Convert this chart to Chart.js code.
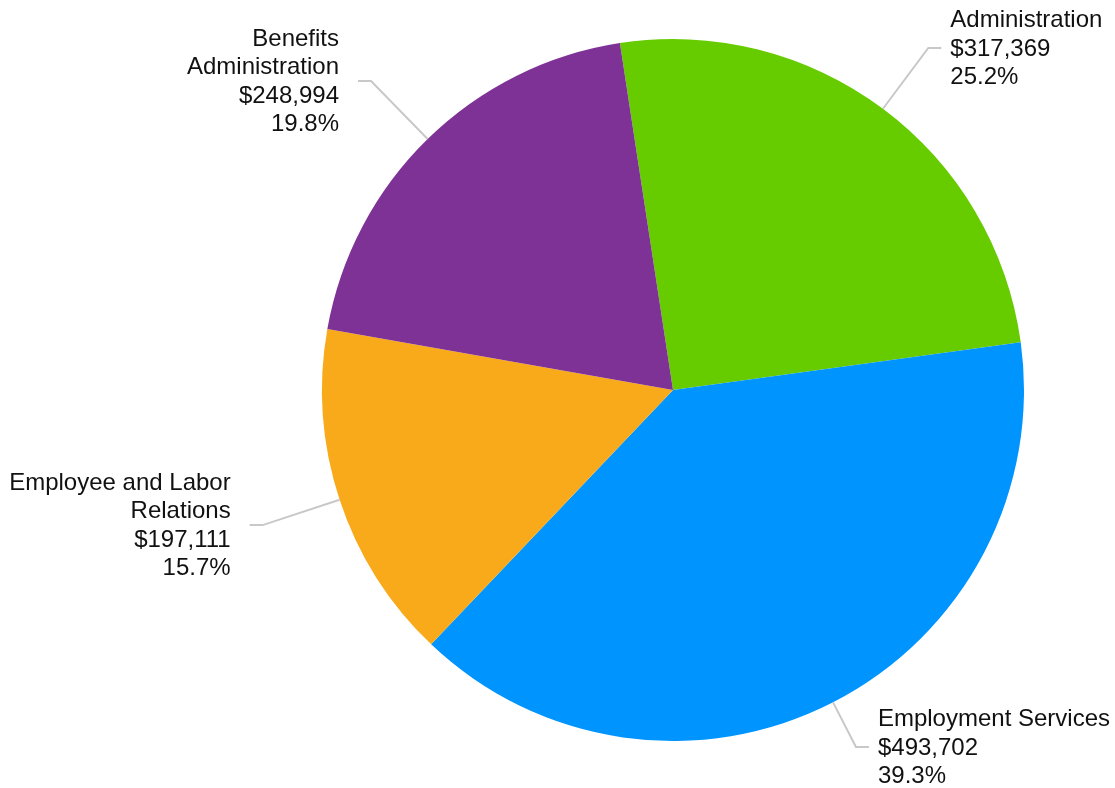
<!DOCTYPE html>
<html>
<head>
<meta charset="utf-8">
<script src="https://cdn.jsdelivr.net/npm/chart.js@4.4.0/dist/chart.umd.min.js"></script>
<style>
  html, body { margin: 0; padding: 0; background: #ffffff; }
  #wrap { width: 1115px; height: 788px; position: relative; }
</style>
</head>
<body>
<div id="wrap"><canvas id="c" width="1115" height="788"></canvas></div>
<script>
const categories = ["Administration", "Employment Services", "Employee and Labor Relations", "Benefits Administration"];
const categoryLines = [["Administration"], ["Employment Services"], ["Employee and Labor", "Relations"], ["Benefits", "Administration"]];
const values = [317369, 493702, 197111, 248994];
const colors = ["#66CC00", "#0094FF", "#F9AA1B", "#7F3296"];

const total = values.reduce((a, b) => a + b, 0);
const FONT = '24px "Liberation Sans", Arial, sans-serif';
const LINE_H = 28.5;

const outsideLabels = {
  id: 'outsideLabels',
  afterDraw(chart) {
    const ctx = chart.ctx;
    const meta = chart.getDatasetMeta(0);
    const H = chart.height;
    ctx.save();
    ctx.font = FONT;
    ctx.fillStyle = '#111111';
    ctx.textBaseline = 'middle';
    meta.data.forEach((arc, i) => {
      const p = arc.getProps(['x', 'y', 'startAngle', 'endAngle', 'outerRadius'], true);
      const mid = (p.startAngle + p.endAngle) / 2;
      const cos = Math.cos(mid), sin = Math.sin(mid);
      const x0 = p.x + p.outerRadius * cos;
      const y0 = p.y + p.outerRadius * sin;
      const r1 = p.outerRadius + 81;
      const lines = categoryLines[i].concat([
        '$' + values[i].toLocaleString('en-US'),
        (values[i] / total * 100).toFixed(1) + '%'
      ]);
      const half = (lines.length - 1) / 2 * LINE_H + 9.5;
      let ey = p.y + r1 * sin;
      let ex = p.x + r1 * cos;
      if (ey + half > H - 3) {
        ey = H - 3 - half;
        ex = p.x + (ey - p.y) / sin * cos;
      }
      if (ey - half < 10) {
        ey = 10 + half;
        ex = p.x + (ey - p.y) / sin * cos;
      }
      const right = cos >= 0;
      const hx = right ? ex + 13 : ex - 13;
      ctx.beginPath();
      ctx.strokeStyle = '#c8c8c8';
      ctx.lineWidth = 2;
      ctx.moveTo(x0, y0);
      ctx.lineTo(ex, ey);
      ctx.lineTo(hx, ey);
      ctx.stroke();
      ctx.textAlign = right ? 'left' : 'right';
      const tx = right ? hx + 9 : hx - 19;
      const firstY = ey - (lines.length - 1) / 2 * LINE_H + 1;
      lines.forEach((t, k) => ctx.fillText(t, tx, firstY + k * LINE_H));
    });
    ctx.restore();
  }
};

new Chart(document.getElementById('c'), {
  type: 'pie',
  data: {
    labels: categories,
    datasets: [{
      data: values,
      backgroundColor: colors,
      borderWidth: 0
    }]
  },
  options: {
    responsive: false,
    animation: false,
    rotation: -8.7,
    layout: { padding: { top: 39, bottom: 47, left: 231, right: 0 } },
    plugins: {
      legend: { display: false },
      tooltip: { enabled: false }
    }
  },
  plugins: [outsideLabels]
});
</script>
</body>
</html>
